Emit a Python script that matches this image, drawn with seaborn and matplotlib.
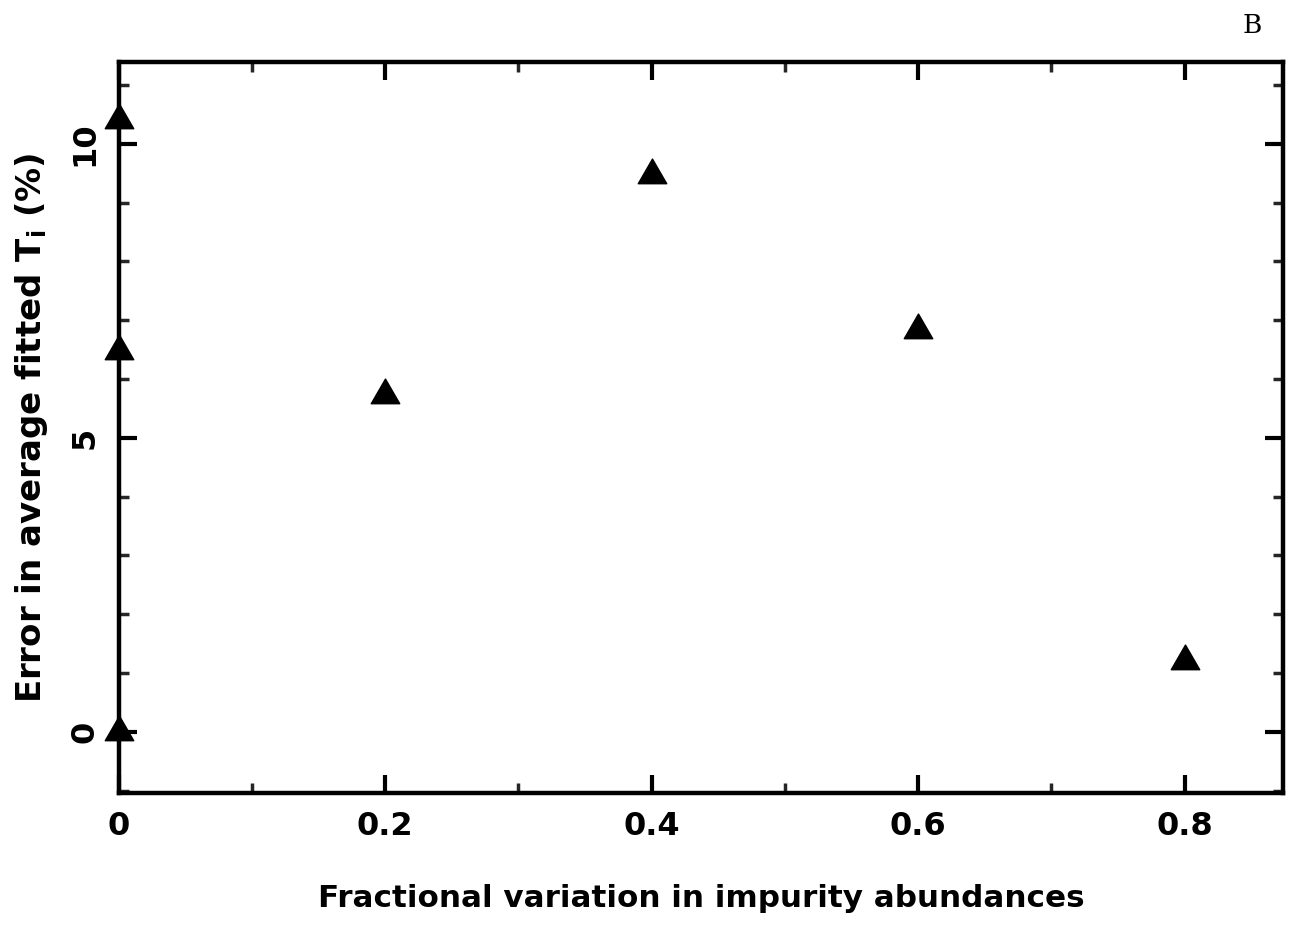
import matplotlib
matplotlib.use("Agg")
import matplotlib.pyplot as plt
import seaborn as sns
import pandas as pd
from matplotlib.ticker import MultipleLocator

# Data
frac_variation = [0.0, 0.0, 0.0, 0.2, 0.4, 0.6, 0.8]
error_pct = [10.4, 6.47, 0.0, 5.73, 9.47, 6.84, 1.2]
x_tick_labels = ["0", "0.2", "0.4", "0.6", "0.8"]
y_tick_labels = ["0", "5", "10"]

df = pd.DataFrame({"x": frac_variation, "y": error_pct})

sns.set_theme(style="white")
plt.rcParams['font.family'] = ['DejaVu Sans']
plt.rcParams['text.color'] = 'black'
plt.rcParams['axes.labelcolor'] = 'black'

fig = plt.figure(figsize=(12.98, 9.25), dpi=100)
ax = fig.add_axes([0.0913, 0.1427, 0.9887 - 0.0913, 0.933 - 0.1427])

sns.scatterplot(data=df, x="x", y="y", marker=(3, 0, 0), s=560, color="black",
                edgecolor="black", linewidth=1.0, clip_on=False, zorder=5, ax=ax)

ax.set_xlim(0, 0.874)
ax.set_ylim(-1.04, 11.39)

ax.xaxis.set_minor_locator(MultipleLocator(0.1))
ax.yaxis.set_minor_locator(MultipleLocator(1))

ax.set_xticks([0, 0.2, 0.4, 0.6, 0.8])
ax.set_xticklabels(x_tick_labels, fontweight="bold")
ax.set_yticks([0, 5, 10])
ax.set_yticklabels(y_tick_labels, rotation=90, va="center", fontweight="bold")

for s in ax.spines.values():
    s.set_linewidth(3.2)
    s.set_color("black")
    s.set_visible(True)

ax.tick_params(which="major", direction="in", length=13, width=3, top=True, right=True,
               bottom=True, left=True, labelsize=23, colors="black", pad=13)
ax.tick_params(which="minor", direction="in", length=7, width=2.5, top=True, right=True,
               bottom=True, left=True)
ax.tick_params(axis="y", which="major", pad=13)

ax.set_xlabel("Fractional variation in impurity abundances", fontsize=22.3,
              fontweight="bold", labelpad=30)
ax.set_ylabel(r"Error in average fitted $\mathbf{T_i}$ (%)", fontsize=24.5,
              fontweight="bold", labelpad=14)

fig.text(0.9645, 0.972, "B", fontsize=19, family="DejaVu Serif", ha="center", va="center")

fig.savefig("out.png", dpi=100)
